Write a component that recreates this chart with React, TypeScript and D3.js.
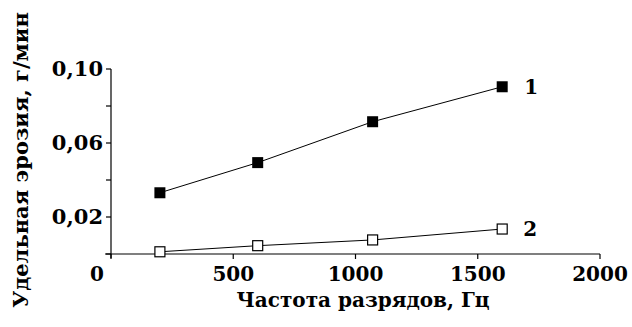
import React from "react";
import * as d3 from "d3";

const freq1 = [200, 600, 1070, 1600];
const erosion1 = [0.0331, 0.0494, 0.0715, 0.0904];
const freq2 = [200, 600, 1070, 1600];
const erosion2 = [0.0012, 0.0045, 0.0076, 0.0135];
const xTicks = [0, 500, 1000, 1500, 2000];
const yTicks = [0, 0.02, 0.04, 0.06, 0.08, 0.1];
const yLabelTicks = [0.02, 0.06, 0.1];
const xTitle = "Частота разрядов, Гц";
const yTitle = "Удельная эрозия, г/мин";
const seriesNames = ["1", "2"];

const W = 632;
const H = 327;
const FONT = "'DejaVu Serif', serif";

export default function App() {
  const x = d3.scaleLinear().domain([0, 2000]).range([111, 600]);
  const y = d3.scaleLinear().domain([0, 0.1]).range([254, 69]);
  const line = d3
    .line<[number, number]>()
    .x((d) => x(d[0]))
    .y((d) => y(d[1]));
  const s1: [number, number][] = freq1.map((f, i) => [f, erosion1[i]]);
  const s2: [number, number][] = freq2.map((f, i) => [f, erosion2[i]]);
  const m = 11;
  const fmt = (v: number) => v.toFixed(2).replace(".", ",");
  return (
    <svg
      width={W}
      height={H}
      style={{ position: "absolute", left: 0, top: 0, background: "#fff" }}
      fontFamily={FONT}
      fontWeight="bold"
    >
      <rect x={0} y={0} width={W} height={H} fill="#fff" />
      {/* axes */}
      <line x1={x(0)} x2={x(0)} y1={y(0.1)} y2={y(0) + 4} stroke="#000" strokeWidth={1.2} />
      <line x1={x(0) - 6} x2={x(2000)} y1={y(0)} y2={y(0)} stroke="#000" strokeWidth={1.2} />
      {yTicks.map((t) => (
        <line key={"yt" + t} x1={x(0) - 5} x2={x(0)} y1={y(t)} y2={y(t)} stroke="#000" strokeWidth={1.2} />
      ))}
      {xTicks.map((t) => (
        <line key={"xt" + t} x1={x(t)} x2={x(t)} y1={y(0)} y2={y(0) + 5} stroke="#000" strokeWidth={1.2} />
      ))}
      {yLabelTicks.map((t) => (
        <text key={"yl" + t} x={x(0) - 8} y={y(t) + 7} fontSize={21} textAnchor="end" fill="#000">
          {fmt(t)}
        </text>
      ))}
      {xTicks.map((t) => (
        <text
          key={"xl" + t}
          x={t === 0 ? x(0) - 14 : x(t)}
          y={281}
          fontSize={20}
          textAnchor="middle"
          fill="#000"
        >
          {t}
        </text>
      ))}
      <text x={363} y={307} fontSize={20} textAnchor="middle" fill="#000">
        {xTitle}
      </text>
      <text
        transform={`translate(28,160) rotate(-90)`}
        fontSize={21}
        textAnchor="middle"
        fill="#000"
      >
        {yTitle}
      </text>
      {/* lines */}
      <path d={line(s1) || ""} fill="none" stroke="#000" strokeWidth={1} />
      <path d={line(s2) || ""} fill="none" stroke="#000" strokeWidth={1} />
      {s1.map((d, i) => (
        <rect key={"m1" + i} x={x(d[0]) - m / 2} y={y(d[1]) - m / 2} width={m} height={m} fill="#000" />
      ))}
      {s2.map((d, i) => (
        <rect
          key={"m2" + i}
          x={x(d[0]) - m / 2 + 0.5}
          y={y(d[1]) - m / 2 + 0.5}
          width={m - 1}
          height={m - 1}
          fill="#fff"
          stroke="#000"
          strokeWidth={1.2}
        />
      ))}
      <text x={x(freq1[3]) + 22} y={y(erosion1[3]) + 7} fontSize={20} fill="#000">
        {seriesNames[0]}
      </text>
      <text x={x(freq2[3]) + 21} y={y(erosion2[3]) + 7} fontSize={20} fill="#000">
        {seriesNames[1]}
      </text>
    </svg>
  );
}
